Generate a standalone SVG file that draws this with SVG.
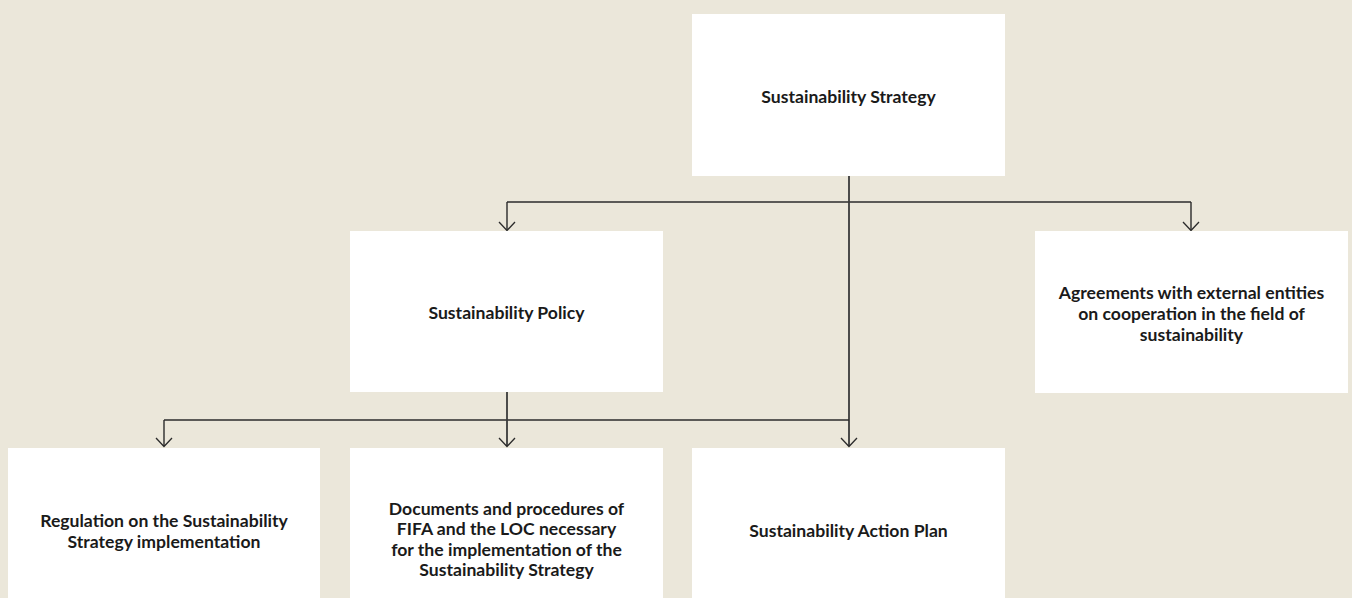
<svg xmlns="http://www.w3.org/2000/svg" width="1352" height="598" viewBox="0 0 1352 598">
<style>
.box{fill:#ffffff}
.lbl{font-family:Lato,"Liberation Sans",sans-serif;font-weight:bold;font-size:17.6px;fill:#1a1a1a;text-anchor:middle}
.ln{stroke:#2b2b2b;stroke-width:1.4;fill:none}
.vl{stroke:#3a3a3a;stroke-width:1.8;fill:none}
.ah{stroke:#2b2b2b;stroke-width:1.3;fill:none}
</style>
<rect x="0" y="0" width="1352" height="598" fill="#ebe7da"/>
<g id="connectors">
<path class="ln" d="M507,202 H1191"/>
<path class="ln" d="M507,202 V230 M1191,202 V230"/>
<path class="vl" d="M849,176 V446"/>
<path class="ln" d="M164,420 H849"/>
<path class="ln" d="M164,420 V446"/>
<path class="vl" d="M507,392 V446"/>
<path class="ah" d="M499,222 L507,230.5 L515,222 M1183,222 L1191,230.5 L1199,222"/>
<path class="ah" d="M156,438 L164,446.5 L172,438 M499,438 L507,446.5 L515,438 M841,438 L849,446.5 L857,438"/>
</g>
<g id="n-strategy">
<rect class="box" x="692" y="14" width="313" height="162"/>
<text class="lbl" x="848.5" y="102.5">Sustainability Strategy</text>
</g>
<g id="n-policy">
<rect class="box" x="350" y="231" width="313" height="161"/>
<text class="lbl" x="506.5" y="319">Sustainability Policy</text>
</g>
<g id="n-agreements">
<rect class="box" x="1035" y="231" width="313" height="162"/>
<text class="lbl" x="1191.5" y="299">Agreements with external entities</text>
<text class="lbl" x="1191.5" y="320">on cooperation in the field of</text>
<text class="lbl" x="1191.5" y="341">sustainability</text>
</g>
<g id="n-regulation">
<rect class="box" x="8" y="448" width="312" height="170"/>
<text class="lbl" x="164" y="527">Regulation on the Sustainability</text>
<text class="lbl" x="164" y="548">Strategy implementation</text>
</g>
<g id="n-documents">
<rect class="box" x="350" y="448" width="313" height="170"/>
<text class="lbl" x="506.5" y="514.5">Documents and procedures of</text>
<text class="lbl" x="506.5" y="535">FIFA and the LOC necessary</text>
<text class="lbl" x="506.5" y="555.5">for the implementation of the</text>
<text class="lbl" x="506.5" y="576">Sustainability Strategy</text>
</g>
<g id="n-actionplan">
<rect class="box" x="692" y="448" width="313" height="170"/>
<text class="lbl" x="848.5" y="536.5">Sustainability Action Plan</text>
</g>
</svg>
